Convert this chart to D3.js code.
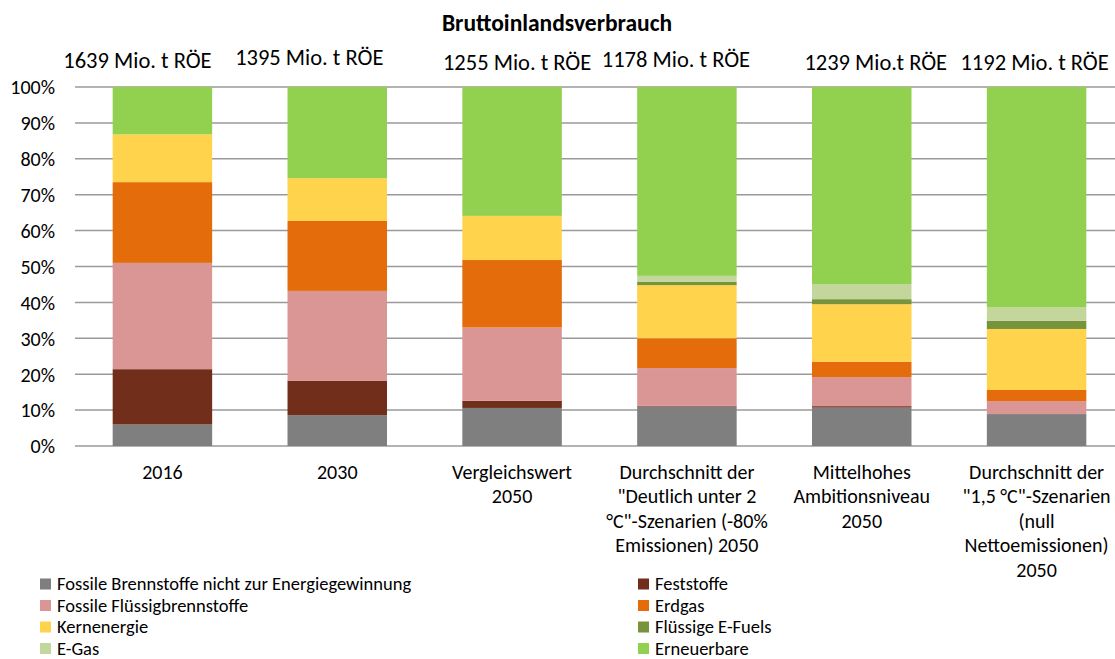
<!DOCTYPE html>
<html>
<head>
<meta charset="utf-8">
<script src="https://cdn.jsdelivr.net/npm/d3@7"></script>
<style>
  body { margin: 0; background: #fff; }
  svg text { font-family: Carlito, Lato, "Open Sans", sans-serif; fill: #000; }
</style>
</head>
<body>
<div id="vis"></div>
<script>
// categories (one entry per bar, lines of the axis label)
var categories = [
  ["2016"],
  ["2030"],
  ["Vergleichswert", "2050"],
  ["Durchschnitt der", "\"Deutlich unter 2", "°C\"-Szenarien (-80%", "Emissionen) 2050"],
  ["Mittelhohes", "Ambitionsniveau", "2050"],
  ["Durchschnitt der", "\"1,5 °C\"-Szenarien", "(null", "Nettoemissionen)", "2050"]
];
var totals = ["1639 Mio. t RÖE", "1395 Mio. t RÖE", "1255 Mio. t RÖE", "1178 Mio. t RÖE", "1239 Mio.t RÖE", "1192 Mio. t RÖE"];

// shares in percent, bottom to top of the stack
var seriesNames = [
  "Fossile Brennstoffe nicht zur Energiegewinnung",
  "Feststoffe",
  "Fossile Flüssigbrennstoffe",
  "Erdgas",
  "Kernenergie",
  "Flüssige E-Fuels",
  "E-Gas",
  "Erneuerbare"
];
var fossilNonEnergy = [6.0, 8.6, 10.6, 11.0, 10.7, 8.9];
var feststoffe      = [15.4, 9.6, 2.0, 0.2, 0.4, 0];
var fluessig        = [29.6, 25.0, 20.4, 10.5, 8.1, 3.6];
var erdgas          = [22.5, 19.5, 18.8, 8.3, 4.3, 3.1];
var kernenergie     = [13.3, 11.9, 12.3, 14.8, 16.0, 17.0];
var eFuels          = [0, 0, 0, 0.9, 1.4, 2.3];
var eGas            = [0, 0, 0, 1.7, 4.2, 3.8];
var erneuerbare     = [13.2, 25.4, 35.9, 52.6, 54.9, 61.3];
var yTicks = [0, 0.1, 0.2, 0.3, 0.4, 0.5, 0.6, 0.7, 0.8, 0.9, 1];

var seriesValues = [fossilNonEnergy, feststoffe, fluessig, erdgas, kernenergie, eFuels, eGas, erneuerbare];
var colors = ["#7f7f7f", "#712e1a", "#da9694", "#e46c0a", "#ffd34b", "#77933c", "#c3d69b", "#92d050"];

// the total labels were placed by hand in the original, a bit off the bar centre
var totalShift = [-25, -28, 5, -11, 14, -2];
var totalBase = [68, 65, 70, 67, 70, 70];

var width = 1115, height = 659;
var plotLeft = 75, plotRight = 1124, plotTop = 87, plotBottom = 446;

var svg = d3.select("#vis").append("svg")
  .attr("width", width)
  .attr("height", height);

// build rows for d3.stack
var rows = categories.map(function(c, i) {
  var r = {key: i};
  seriesNames.forEach(function(s, j) { r[s] = seriesValues[j][i] / 100; });
  return r;
});
var stacked = d3.stack().keys(seriesNames)(rows);

var x = d3.scaleBand()
  .domain(d3.range(categories.length))
  .range([plotLeft, plotRight])
  .paddingInner(0.431)
  .paddingOuter(0.2155);

var y = d3.scaleLinear().domain([0, 1]).range([plotBottom, plotTop]);

// gridlines
svg.append("g")
  .selectAll("line")
  .data(yTicks)
  .enter().append("line")
    .attr("x1", plotLeft)
    .attr("x2", width)
    .attr("y1", function(d) { return y(d); })
    .attr("y2", function(d) { return y(d); })
    .style("stroke", "#9a9a9a")
    .style("stroke-width", 1.5);

// y axis labels
var yAxis = svg.append("g")
  .attr("transform", "translate(" + plotLeft + ",0)")
  .call(d3.axisLeft(y).tickValues(yTicks).tickFormat(d3.format(".0%")).tickSize(0).tickPadding(20));
yAxis.select(".domain").remove();
yAxis.selectAll("text")
  .style("font-size", "20px")
  .style("font-family", "Carlito, Lato, sans-serif")
  .attr("dy", "0.34em");

// bars
svg.append("g")
  .selectAll("g")
  .data(stacked)
  .enter().append("g")
    .style("fill", function(d, i) { return colors[i]; })
  .selectAll("rect")
  .data(function(d) { return d; })
  .enter().append("rect")
    .attr("x", function(d, i) { return x(i); })
    .attr("width", x.bandwidth())
    .attr("y", function(d) { return y(d[1]); })
    .attr("height", function(d) { return y(d[0]) - y(d[1]); });

// category labels
var cat = svg.append("g")
  .selectAll("text")
  .data(categories)
  .enter().append("text")
    .attr("text-anchor", "middle")
    .style("font-size", "20px");
cat.selectAll("tspan")
  .data(function(d, i) { return d.map(function(line) { return {line: line, i: i}; }); })
  .enter().append("tspan")
    .attr("x", function(d) { return x(d.i) + x.bandwidth() / 2; })
    .attr("y", function(d, k) { return 479 + k * 24.4; })
    .text(function(d) { return d.line; });

// totals above the bars
svg.append("g")
  .selectAll("text")
  .data(totals)
  .enter().append("text")
    .attr("text-anchor", "middle")
    .attr("x", function(d, i) { return x(i) + x.bandwidth() / 2 + totalShift[i]; })
    .attr("y", function(d, i) { return totalBase[i]; })
    .style("font-size", "22.5px")
    .text(function(d) { return d; });

// title
svg.append("text")
  .attr("x", 557)
  .attr("y", 31)
  .attr("text-anchor", "middle")
  .style("font-size", "23.5px")
  .style("font-weight", "bold")
  .text("Bruttoinlandsverbrauch");

// legend, two columns row by row
var legend = svg.append("g")
  .selectAll("g")
  .data(seriesNames)
  .enter().append("g")
    .attr("transform", function(d, i) {
      return "translate(" + (i % 2 === 0 ? 40 : 638) + "," + (584 + Math.floor(i / 2) * 21.5) + ")";
    });
legend.append("rect")
  .attr("x", 0)
  .attr("y", -5.5)
  .attr("width", 11)
  .attr("height", 11)
  .style("fill", function(d, i) { return colors[i]; });
legend.append("text")
  .attr("x", 17)
  .attr("dy", "0.33em")
  .style("font-size", "18.5px")
  .text(function(d) { return d; });
</script>
</body>
</html>
